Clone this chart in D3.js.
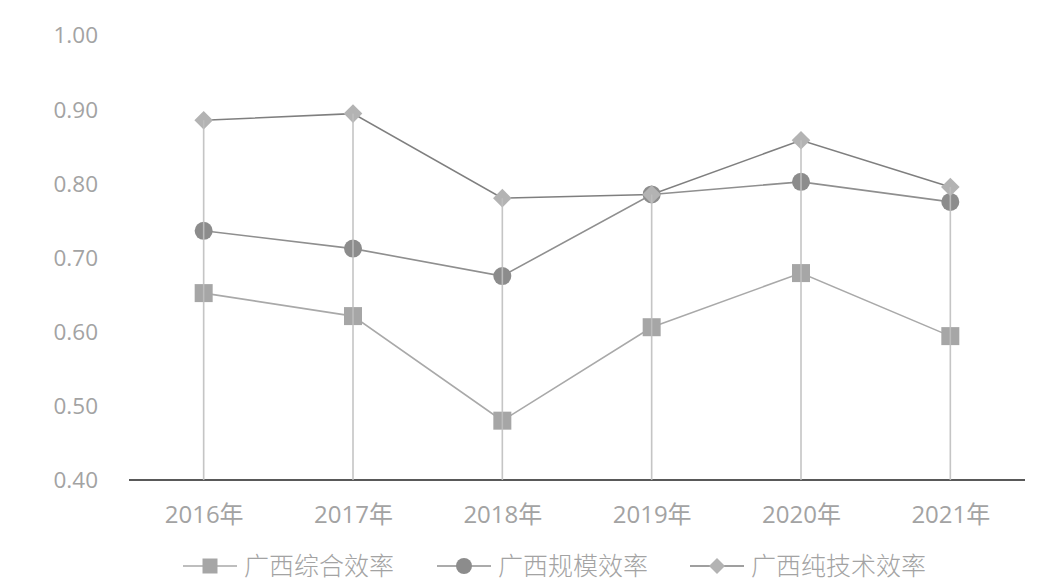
<!DOCTYPE html>
<html><head><meta charset="utf-8">
<script src="https://cdn.jsdelivr.net/npm/d3@7"></script>
<style>
html,body{margin:0;padding:0;background:#fff;}
svg{display:block;}
</style></head>
<body>
<svg id="chart" width="1058" height="586"></svg>
<script>
const categories = ["2016年","2017年","2018年","2019年","2020年","2021年"];
const seriesNames = ["广西综合效率","广西规模效率","广西纯技术效率"];
const comprehensive = [0.652, 0.621, 0.480, 0.606, 0.679, 0.594];
const scale = [0.736, 0.712, 0.675, 0.785, 0.802, 0.775];
const pureTech = [0.885, 0.894, 0.780, 0.785, 0.858, 0.795];
const yTicks = [0.40, 0.50, 0.60, 0.70, 0.80, 0.90, 1.00];

const series = [
  {name: seriesNames[0], values: comprehensive, shape: "square", fill: "#a6a6a6", stroke: "#a9a9a9"},
  {name: seriesNames[1], values: scale, shape: "circle", fill: "#8c8c8c", stroke: "#8f8f8f"},
  {name: seriesNames[2], values: pureTech, shape: "diamond", fill: "#b3b3b3", stroke: "#7f7f7f"}
];

const svg = d3.select("#chart");
const x = d3.scalePoint().domain(categories).range([129, 1025]).padding(0.5);
const y = d3.scaleLinear().domain([0.4, 1.0]).range([480, 35]);

// y axis labels
const yAxis = svg.append("g").attr("transform", "translate(98,0)")
  .call(d3.axisLeft(y).tickValues(yTicks).tickSize(0).tickPadding(0).tickFormat(d3.format(".2f")));
yAxis.select(".domain").remove();
yAxis.selectAll("text").attr("font-family", "'Open Sans', sans-serif").attr("font-size", 22.5).attr("fill", "#a3a3a3").attr("dy", "0.35em");

// x axis
const xAxis = svg.append("g").attr("transform", "translate(0,480)")
  .call(d3.axisBottom(x).tickSize(0).tickPadding(0));
xAxis.select(".domain").attr("stroke", "#222").attr("stroke-width", 1.6).attr("d", "M129,0H1025");
xAxis.selectAll("text").attr("font-family", "'Open Sans','Noto Sans CJK SC', sans-serif").attr("font-size", 24)
  .attr("fill", "#a3a3a3").attr("dy", null).attr("y", 43);

const symbolFor = (shape, size) => {
  if (shape === "square") return d3.symbol().type(d3.symbolSquare).size(size*size)();
  if (shape === "circle") return d3.symbol().type(d3.symbolCircle).size(Math.PI*(size/2)*(size/2))();
  return d3.symbol().type(d3.symbolDiamond2).size(size*size/2)();
};
const markerSize = {square: 18, circle: 18, diamond: 21};

// series lines
const line = d3.line().x((d,i) => x(categories[i])).y(d => y(d));
series.forEach(s => {
  svg.append("path").datum(s.values).attr("d", line)
    .attr("fill", "none").attr("stroke", s.stroke).attr("stroke-width", 1.6);
});
// markers
series.forEach(s => {
  svg.append("g").selectAll("path").data(s.values).join("path")
    .attr("transform", (d,i) => `translate(${x(categories[i])},${y(d)})`)
    .attr("d", symbolFor(s.shape, markerSize[s.shape]))
    .attr("fill", s.fill);
});
// drop lines
const maxVals = categories.map((c,i) => d3.max(series, s => s.values[i]));
svg.append("g").selectAll("line").data(maxVals).join("line")
  .attr("x1", (d,i) => x(categories[i])).attr("x2", (d,i) => x(categories[i]))
  .attr("y1", d => y(d)).attr("y2", y(0.4))
  .attr("stroke", "#bfbfbf").attr("stroke-width", 1.6).attr("opacity", 0.9);

// legend
const legendItems = [
  {s: series[0], x0: 183},
  {s: series[1], x0: 437},
  {s: series[2], x0: 690}
];
const ly = 566;
legendItems.forEach(item => {
  const g = svg.append("g").attr("transform", `translate(${item.x0},${ly})`);
  g.append("line").attr("x1", 0).attr("x2", 54).attr("y1", 0).attr("y2", 0)
    .attr("stroke", item.s.stroke).attr("stroke-width", 1.6);
  g.append("path").attr("transform", "translate(27,0)")
    .attr("d", symbolFor(item.s.shape, item.s.shape === "square" ? 15 : (item.s.shape === "diamond" ? 18 : 16))).attr("fill", item.s.fill);
  g.append("text").attr("x", 61).attr("y", 0).attr("dy", "0.36em")
    .attr("font-family", "'Noto Sans CJK SC', sans-serif").attr("font-weight", 300)
    .attr("font-size", 25).attr("fill", "#a3a3a3").text(item.s.name);
});
</script>
</body></html>
